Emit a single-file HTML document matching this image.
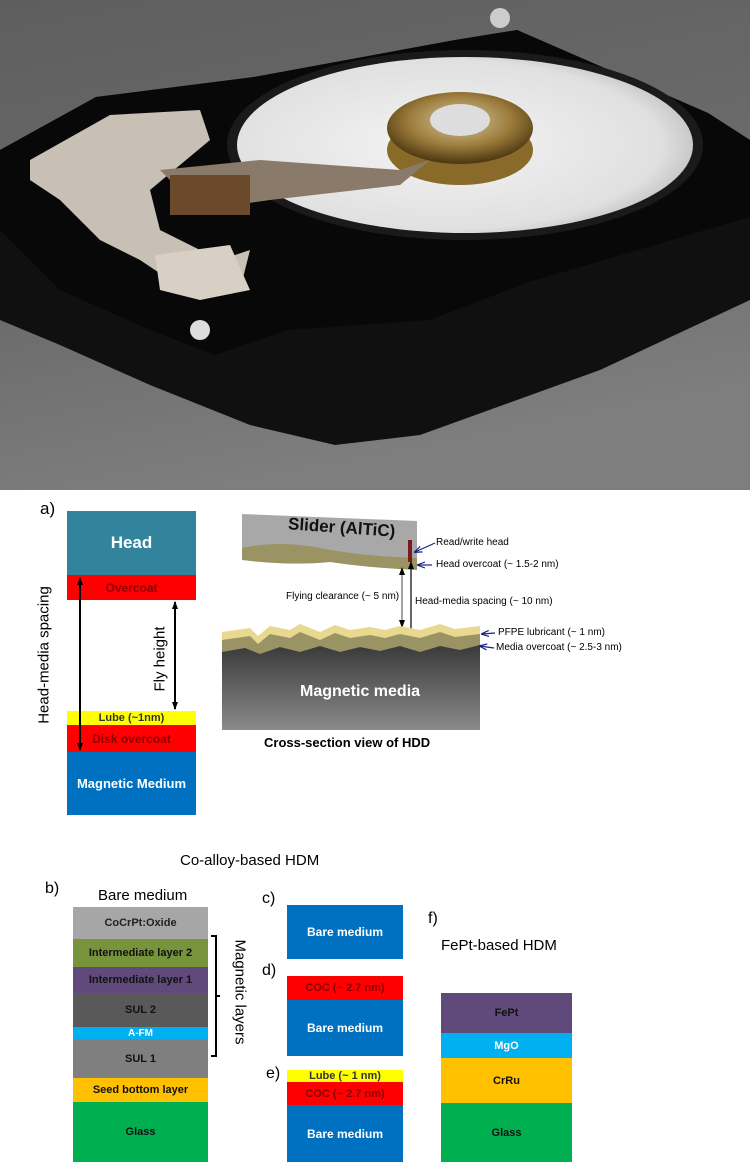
<!DOCTYPE html>
<html><head><meta charset="utf-8"><style>
body{margin:0;width:750px;height:1167px;position:relative;background:#fff;overflow:hidden;font-family:"Liberation Sans",sans-serif}
.a{position:absolute}
.b{position:absolute;display:flex;align-items:center;justify-content:center;font-weight:bold;font-family:"Liberation Sans Narrow","Liberation Sans",sans-serif}
.t{position:absolute;white-space:nowrap;font-family:"Liberation Sans Narrow","Liberation Sans",sans-serif}
</style></head><body>
<svg class="a" style="left:0;top:0" width="750" height="490" viewBox="0 0 750 490">
<defs>
<linearGradient id="bg" x1="0" y1="0" x2="0.3" y2="1"><stop offset="0" stop-color="#5e5e5e"/><stop offset="0.6" stop-color="#6c6c6c"/><stop offset="1" stop-color="#7e7e7e"/></linearGradient>
<radialGradient id="pl" cx="0.45" cy="0.5" r="0.6"><stop offset="0" stop-color="#f4f4f4"/><stop offset="0.8" stop-color="#e0e0e0"/><stop offset="1" stop-color="#b8b8b8"/></radialGradient>
<radialGradient id="gd" cx="0.5" cy="0.4" r="0.6"><stop offset="0" stop-color="#d8c9a0"/><stop offset="0.6" stop-color="#9a7a3a"/><stop offset="1" stop-color="#4a3510"/></radialGradient>
</defs>
<rect width="750" height="490" fill="url(#bg)"/>
<polygon points="0,150 96,97 254,77 455,40 517,30 708,113 750,140 750,300 600,370 420,435 335,445 250,425 150,385 60,345 0,320" fill="#101010"/>
<polygon points="0,150 96,97 254,77 455,40 517,30 708,113 750,140 750,217 526,283 430,320 287,330 215,355 150,330 60,290 0,230" fill="#080808"/>
<ellipse cx="465" cy="145" rx="238" ry="95" fill="#1a1a1a"/>
<ellipse cx="465" cy="145" rx="228" ry="88" fill="url(#pl)"/>
<ellipse cx="460" cy="150" rx="73" ry="35" fill="#8a6a28"/>
<ellipse cx="460" cy="128" rx="73" ry="36" fill="url(#gd)"/>
<ellipse cx="460" cy="120" rx="30" ry="16" fill="#ddd"/>
<polygon points="30,160 110,115 200,110 210,140 150,190 160,230 220,260 250,250 240,290 200,300 140,260 100,240 60,200 30,180" fill="#c8bfb5"/>
<polygon points="160,170 260,160 400,170 430,160 400,185 270,200 200,210" fill="#8a7a6a"/>
<rect x="170" y="175" width="80" height="40" fill="#6a4a2a"/>
<polygon points="155,255 230,245 250,290 200,300 160,290" fill="#d8cfc5"/>
<circle cx="200" cy="330" r="10" fill="#ddd"/>
<circle cx="500" cy="18" r="10" fill="#ccc"/>
</svg>

<div class="t" style="left:40px;top:499px;font-size:17px">a)</div>
<div class="b" style="left:67px;top:511px;width:129px;height:64px;background:#31849b;color:#fff;font-size:17px">Head</div>
<div class="b" style="left:67px;top:575px;width:129px;height:25px;background:#ff0000;color:#8b0000;font-size:12px">Overcoat</div>
<div class="b" style="left:67px;top:711px;width:129px;height:14px;background:#ffff00;color:#333;font-size:11px">Lube (~1nm)</div>
<div class="b" style="left:67px;top:725px;width:129px;height:27px;background:#ff0000;color:#8b0000;font-size:12px">Disk overcoat</div>
<div class="b" style="left:67px;top:752px;width:129px;height:63px;background:#0070c0;color:#fff;font-size:13px">Magnetic Medium</div>
<svg class="a" style="left:0;top:490px" width="750" height="677" viewBox="0 490 750 677">
<defs><marker id="ah" markerUnits="userSpaceOnUse" markerWidth="8" markerHeight="8" refX="7" refY="4" orient="auto-start-reverse"><path d="M0,1 L8,4 L0,7 z" fill="#000"/></marker>
<marker id="bh" markerUnits="userSpaceOnUse" markerWidth="8" markerHeight="8" refX="7" refY="4" orient="auto"><path d="M0,1 L8,4 L0,7" stroke="#1a237e" fill="none" stroke-width="1.2"/></marker>
<linearGradient id="mm" x1="0" y1="0" x2="0" y2="1"><stop offset="0" stop-color="#3a3a3a"/><stop offset="1" stop-color="#8a8a8a"/></linearGradient></defs>
<line x1="80" y1="578" x2="80" y2="750" stroke="#000" stroke-width="2" marker-start="url(#ah)" marker-end="url(#ah)"/>
<line x1="175" y1="602" x2="175" y2="709" stroke="#000" stroke-width="2" marker-start="url(#ah)" marker-end="url(#ah)"/>
<polygon points="242,514 417,521 417,570 380,566 330,560 290,562 242,558" fill="#a8a8a8"/>
<path d="M242,548 Q280,540 320,548 Q360,556 417,558 L417,570 Q370,568 330,562 Q290,566 242,560 z" fill="#9a9464"/>
<rect x="408" y="540" width="4" height="22" fill="#7a1a1a"/>
<line x1="402" y1="568" x2="402" y2="627" stroke="#666" stroke-width="1.2" marker-start="url(#ah)" marker-end="url(#ah)"/>
<line x1="411" y1="562" x2="411" y2="654" stroke="#000" stroke-width="1.2" marker-start="url(#ah)" marker-end="url(#ah)"/>
<path d="M222,632 L250,628 L258,636 L270,626 L290,630 L300,624 L320,632 L335,625 L350,630 L370,627 L385,630 L400,626 L420,630 L440,624 L455,629 L480,626 L480,652 L222,655 z" fill="#e8d890"/>
<path d="M222,640 L250,636 L258,644 L270,634 L290,638 L300,632 L320,640 L335,633 L350,638 L370,635 L385,638 L400,634 L420,638 L440,632 L455,637 L480,634 L480,652 L222,655 z" fill="#9a9464"/>
<path d="M222,652 L245,648 L260,654 L280,647 L300,652 L320,646 L340,652 L360,647 L380,651 L400,646 L420,652 L440,646 L460,650 L480,645 L480,730 L222,730 z" fill="url(#mm)"/>
<line x1="435" y1="543" x2="415" y2="552" stroke="#1a237e" stroke-width="1.2" marker-end="url(#bh)"/>
<line x1="432" y1="565" x2="418" y2="565" stroke="#1a237e" stroke-width="1.2" marker-end="url(#bh)"/>
<line x1="495" y1="633" x2="482" y2="634" stroke="#1a237e" stroke-width="1.2" marker-end="url(#bh)"/>
<line x1="494" y1="648" x2="480" y2="646" stroke="#1a237e" stroke-width="1.2" marker-end="url(#bh)"/>
<path d="M211,936 L216,936 L216,1056 L211,1056 M216,996 L220,996" stroke="#000" stroke-width="2" fill="none"/>
</svg>
<div class="t" style="left:44px;top:655px;transform:translate(-50%,-50%) rotate(-90deg);font-size:15px">Head-media spacing</div>
<div class="t" style="left:160px;top:659px;transform:translate(-50%,-50%) rotate(-90deg);font-size:15px">Fly height</div>
<div class="t" style="left:288px;top:518px;font-size:17px;font-weight:bold;transform:rotate(4deg);color:#111">Slider (AlTiC)</div>
<div class="t" style="left:436px;top:537px;font-size:10px">Read/write head</div>
<div class="t" style="left:436px;top:559px;font-size:10px">Head overcoat (~ 1.5-2 nm)</div>
<div class="t" style="left:286px;top:591px;font-size:10px">Flying clearance (~ 5 nm)</div>
<div class="t" style="left:415px;top:596px;font-size:10px">Head-media spacing (~ 10 nm)</div>
<div class="t" style="left:498px;top:627px;font-size:10px">PFPE lubricant (~ 1 nm)</div>
<div class="t" style="left:496px;top:642px;font-size:10px">Media overcoat (~ 2.5-3 nm)</div>
<div class="t" style="left:300px;top:683px;font-size:16px;font-weight:bold;color:#fff">Magnetic media</div>
<div class="t" style="left:264px;top:735px;font-size:13px;font-weight:bold">Cross-section view of HDD</div>

<div class="t" style="left:180px;top:852px;font-size:15px">Co-alloy-based HDM</div>
<div class="t" style="left:45px;top:880px;font-size:16px">b)</div>
<div class="t" style="left:98px;top:887px;font-size:15px">Bare medium</div>
<div class="b" style="left:73px;top:907px;width:135px;height:32px;background:#a6a6a6;color:#222;font-size:11px">CoCrPt:Oxide</div>
<div class="b" style="left:73px;top:939px;width:135px;height:28px;background:#77933c;color:#111;font-size:11px">Intermediate layer 2</div>
<div class="b" style="left:73px;top:967px;width:135px;height:26px;background:#604a7b;color:#111;font-size:11px">Intermediate layer 1</div>
<div class="b" style="left:73px;top:993px;width:135px;height:34px;background:#595959;color:#111;font-size:11px">SUL 2</div>
<div class="b" style="left:73px;top:1027px;width:135px;height:12px;background:#00b0f0;color:#fff;font-size:10px">A-FM</div>
<div class="b" style="left:73px;top:1039px;width:135px;height:39px;background:#7f7f7f;color:#111;font-size:11px">SUL 1</div>
<div class="b" style="left:73px;top:1078px;width:135px;height:24px;background:#ffc000;color:#111;font-size:11px">Seed bottom layer</div>
<div class="b" style="left:73px;top:1102px;width:135px;height:60px;background:#00b050;color:#111;font-size:11px">Glass</div>
<div class="t" style="left:240px;top:992px;transform:translate(-50%,-50%) rotate(90deg);font-size:15px">Magnetic layers</div>
<div class="t" style="left:262px;top:890px;font-size:16px">c)</div>
<div class="b" style="left:287px;top:905px;width:116px;height:54px;background:#0070c0;color:#fff;font-size:12px">Bare medium</div>
<div class="t" style="left:262px;top:962px;font-size:16px">d)</div>
<div class="b" style="left:287px;top:976px;width:116px;height:24px;background:#ff0000;color:#8b0000;font-size:11px">COC (~ 2.7 nm)</div>
<div class="b" style="left:287px;top:1000px;width:116px;height:56px;background:#0070c0;color:#fff;font-size:12px">Bare medium</div>
<div class="t" style="left:266px;top:1065px;font-size:16px">e)</div>
<div class="b" style="left:287px;top:1070px;width:116px;height:12px;background:#ffff00;color:#333;font-size:11px">Lube (~ 1 nm)</div>
<div class="b" style="left:287px;top:1082px;width:116px;height:23px;background:#ff0000;color:#8b0000;font-size:11px">COC (~ 2.7 nm)</div>
<div class="b" style="left:287px;top:1105px;width:116px;height:57px;background:#0070c0;color:#fff;font-size:12px">Bare medium</div>
<div class="t" style="left:428px;top:910px;font-size:16px">f)</div>
<div class="t" style="left:441px;top:937px;font-size:15px">FePt-based HDM</div>
<div class="b" style="left:441px;top:993px;width:131px;height:40px;background:#604a7b;color:#111;font-size:11px">FePt</div>
<div class="b" style="left:441px;top:1033px;width:131px;height:25px;background:#00b0f0;color:#fff;font-size:11px">MgO</div>
<div class="b" style="left:441px;top:1058px;width:131px;height:45px;background:#ffc000;color:#111;font-size:11px">CrRu</div>
<div class="b" style="left:441px;top:1103px;width:131px;height:59px;background:#00b050;color:#111;font-size:11px">Glass</div>
</body></html>
